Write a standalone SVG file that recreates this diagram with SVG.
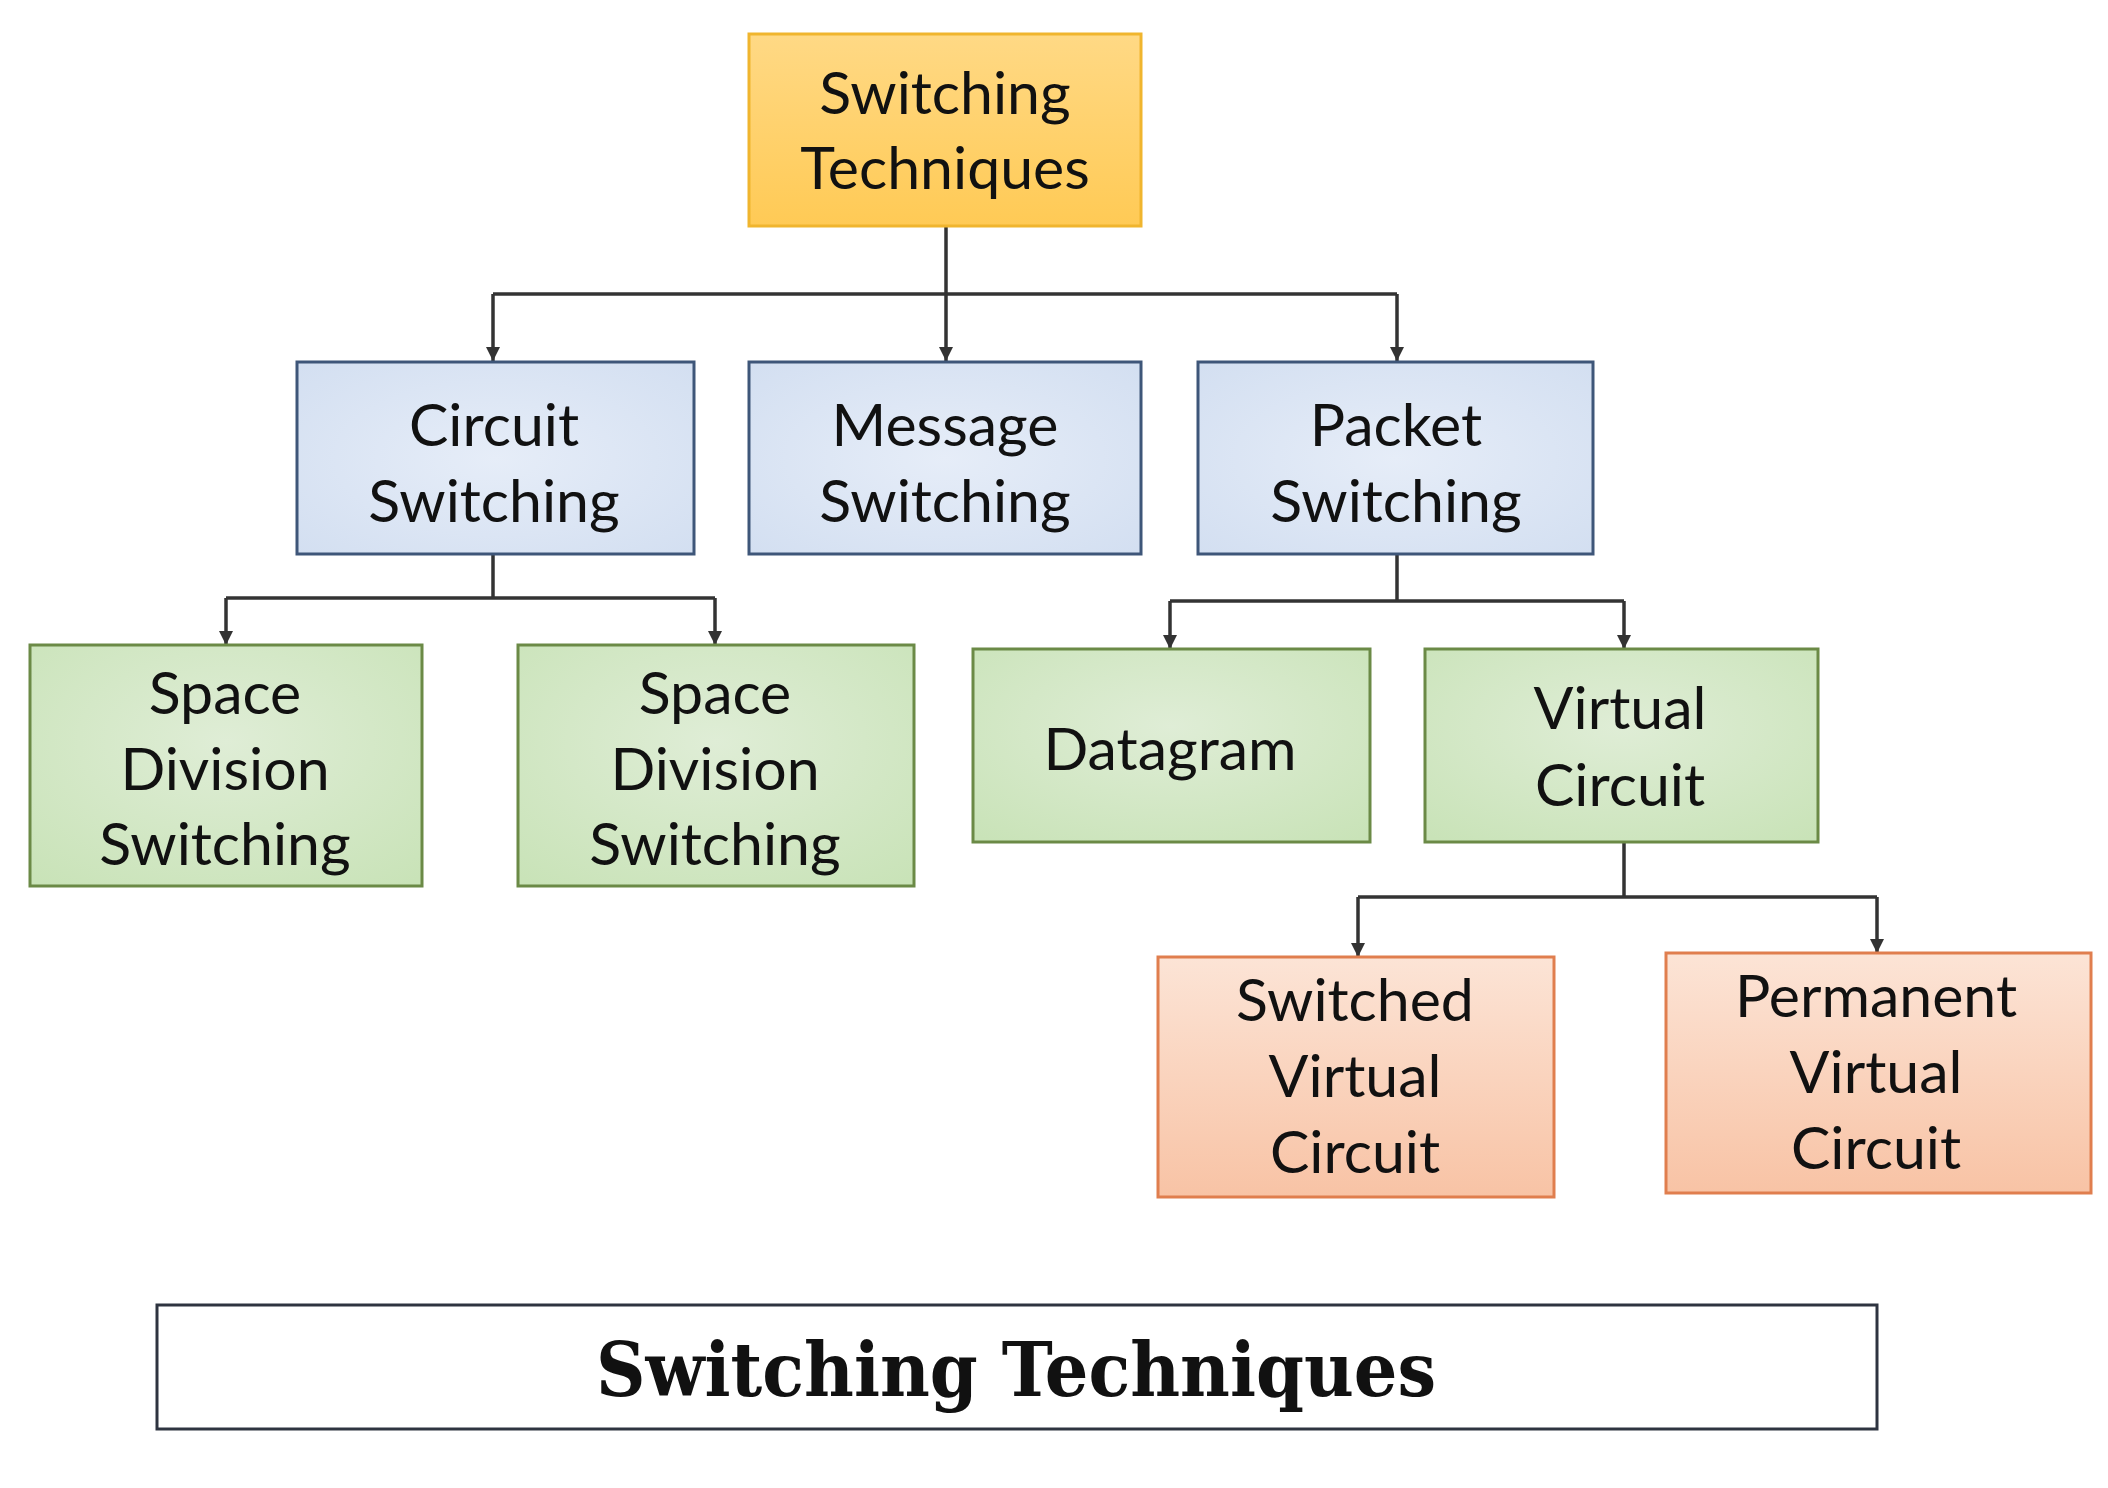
<svg xmlns="http://www.w3.org/2000/svg" width="2108" height="1488" viewBox="0 0 2108 1488">
<defs>
<linearGradient id="gOrange" x1="0" y1="0" x2="0" y2="1">
<stop offset="0" stop-color="#FFD985"/><stop offset="1" stop-color="#FFCA55"/>
</linearGradient>
<radialGradient id="gBlue" cx="0.5" cy="0.5" r="0.7">
<stop offset="0" stop-color="#E6EDF8"/><stop offset="1" stop-color="#D3DFF1"/>
</radialGradient>
<radialGradient id="gGreen" cx="0.5" cy="0.4" r="0.75">
<stop offset="0" stop-color="#DFEDD6"/><stop offset="1" stop-color="#C9E3B8"/>
</radialGradient>
<linearGradient id="gPeach" x1="0" y1="0" x2="0" y2="1">
<stop offset="0" stop-color="#FCE4D6"/><stop offset="1" stop-color="#F8C3A5"/>
</linearGradient>
<marker id="arr" viewBox="0 0 14 14" refX="14" refY="7" markerWidth="15" markerHeight="14" markerUnits="userSpaceOnUse" orient="auto">
<path d="M0,0 L14,7 L0,14 z" fill="#333"/>
</marker>
<style>
.lbl{font-family:Lato,"Open Sans","Liberation Sans",sans-serif;font-size:59px;fill:#111;text-anchor:middle}
.top{fill:url(#gOrange);stroke:#F0B52E;stroke-width:3}
.blue{fill:url(#gBlue);stroke:#3E5679;stroke-width:3}
.green{fill:url(#gGreen);stroke:#6B8A46;stroke-width:3}
.peach{fill:url(#gPeach);stroke:#E07E4E;stroke-width:3}
.conn{fill:none;stroke:#333;stroke-width:3.5}
.title{font-family:"DejaVu Serif","Liberation Serif",serif;font-weight:bold;font-size:74px;fill:#111;text-anchor:middle}
</style>
</defs>
<rect width="2108" height="1488" fill="#FFFFFF"/>
<g id="connectors">
<path class="conn" d="M946,226 V361" marker-end="url(#arr)"/>
<path class="conn" d="M493,294 H1397"/>
<path class="conn" d="M493,294 V361" marker-end="url(#arr)"/>
<path class="conn" d="M1397,294 V361" marker-end="url(#arr)"/>
<path class="conn" d="M493,554 V598"/>
<path class="conn" d="M226,598 H715"/>
<path class="conn" d="M226,598 V645" marker-end="url(#arr)"/>
<path class="conn" d="M715,598 V645" marker-end="url(#arr)"/>
<path class="conn" d="M1397,554 V601"/>
<path class="conn" d="M1170,601 H1624"/>
<path class="conn" d="M1170,601 V649" marker-end="url(#arr)"/>
<path class="conn" d="M1624,601 V649" marker-end="url(#arr)"/>
<path class="conn" d="M1624,842 V897"/>
<path class="conn" d="M1358,897 H1877"/>
<path class="conn" d="M1358,897 V957" marker-end="url(#arr)"/>
<path class="conn" d="M1877,897 V953" marker-end="url(#arr)"/>
</g>
<g id="node-switching-techniques">
<rect class="top" x="749" y="34" width="392" height="192"/>
<text class="lbl" x="945" y="114">Switching</text>
<text class="lbl" x="945" y="189">Techniques</text>
</g>
<g id="node-circuit-switching">
<rect class="blue" x="297" y="362" width="397" height="192"/>
<text class="lbl" x="494" y="446">Circuit</text>
<text class="lbl" x="494" y="522">Switching</text>
</g>
<g id="node-message-switching">
<rect class="blue" x="749" y="362" width="392" height="192"/>
<text class="lbl" x="945" y="446">Message</text>
<text class="lbl" x="945" y="522">Switching</text>
</g>
<g id="node-packet-switching">
<rect class="blue" x="1198" y="362" width="395" height="192"/>
<text class="lbl" x="1396" y="446">Packet</text>
<text class="lbl" x="1396" y="522">Switching</text>
</g>
<g id="node-space-division-1">
<rect class="green" x="30" y="645" width="392" height="241"/>
<text class="lbl" x="225" y="714">Space</text>
<text class="lbl" x="225" y="790">Division</text>
<text class="lbl" x="225" y="865">Switching</text>
</g>
<g id="node-space-division-2">
<rect class="green" x="518" y="645" width="396" height="241"/>
<text class="lbl" x="715" y="714">Space</text>
<text class="lbl" x="715" y="790">Division</text>
<text class="lbl" x="715" y="865">Switching</text>
</g>
<g id="node-datagram">
<rect class="green" x="973" y="649" width="397" height="193"/>
<text class="lbl" x="1170" y="770">Datagram</text>
</g>
<g id="node-virtual-circuit">
<rect class="green" x="1425" y="649" width="393" height="193"/>
<text class="lbl" x="1620" y="729">Virtual</text>
<text class="lbl" x="1620" y="806">Circuit</text>
</g>
<g id="node-switched-vc">
<rect class="peach" x="1158" y="957" width="396" height="240"/>
<text class="lbl" x="1355" y="1021">Switched</text>
<text class="lbl" x="1355" y="1097">Virtual</text>
<text class="lbl" x="1355" y="1173">Circuit</text>
</g>
<g id="node-permanent-vc">
<rect class="peach" x="1666" y="953" width="425" height="240"/>
<text class="lbl" x="1876" y="1017">Permanent</text>
<text class="lbl" x="1876" y="1093">Virtual</text>
<text class="lbl" x="1876" y="1169">Circuit</text>
</g>
<g id="title">
<rect x="157" y="1305" width="1720" height="124" fill="#FFFFFF" stroke="#2E3440" stroke-width="3"/>
<text class="title" x="1016" y="1396" textLength="840" lengthAdjust="spacingAndGlyphs">Switching Techniques</text>
</g>
</svg>
